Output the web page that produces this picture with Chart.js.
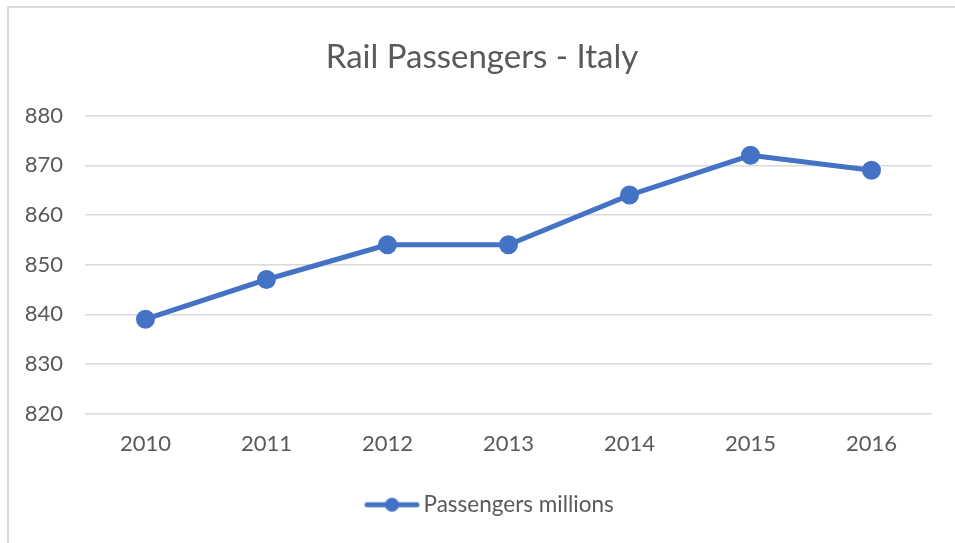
<!DOCTYPE html>
<html>
<head>
<meta charset="utf-8">
<script src="https://cdn.jsdelivr.net/npm/chart.js@4/dist/chart.umd.min.js"></script>
<style>
  html, body { margin: 0; padding: 0; background: #ffffff; }
  #frame {
    position: absolute; left: 7px; top: 6px; width: 946px; height: 535px;
    border-left: 2px solid #d9d9d9; border-top: 2px solid #d9d9d9;
  }
  #wrap { position: absolute; left: 0; top: 0; width: 946px; height: 535px; }
</style>
</head>
<body>
<div id="frame"><div id="wrap"><canvas id="chart"></canvas></div></div>
<script>
const years = ['2010', '2011', '2012', '2013', '2014', '2015', '2016'];
const passengers = [839, 847, 854, 854, 864, 872, 869];
const seriesName = 'Passengers millions';
const chartTitle = 'Rail Passengers - Italy';
const yMin = 820, yMax = 880, yStep = 10;

const blue = '#4472C4';
const textGrey = '#595959';
const gridGrey = '#d9d9d9';
const fontFamily = 'Lato, "Open Sans", sans-serif';

// legend swatch: line with a round marker in the middle (left part left blank)
const swatch = document.createElement('canvas');
swatch.width = 78; swatch.height = 16;
(function () {
  const c = swatch.getContext('2d');
  c.strokeStyle = blue; c.lineWidth = 5; c.lineCap = 'round';
  c.beginPath(); c.moveTo(24.75, 8); c.lineTo(74.75, 8); c.stroke();
  c.fillStyle = blue;
  c.beginPath(); c.arc(49.75, 8, 7, 0, Math.PI * 2); c.fill();
})();

new Chart(document.getElementById('chart'), {
  type: 'line',
  data: {
    labels: years,
    datasets: [{
      label: seriesName,
      data: passengers,
      yAxisID: 'y',
      borderColor: blue,
      backgroundColor: blue,
      borderWidth: 5,
      pointRadius: 7,
      pointHoverRadius: 7,
      pointBackgroundColor: blue,
      pointBorderColor: blue,
      borderCapStyle: 'round',
      borderJoinStyle: 'round',
      tension: 0
    }]
  },
  options: {
    responsive: true,
    maintainAspectRatio: false,
    animation: false,
    layout: { padding: { left: 0, right: 0, top: 0, bottom: 17 } },
    plugins: {
      title: {
        display: true,
        text: chartTitle,
        color: textGrey,
        font: { family: fontFamily, size: 33, weight: 'normal' },
        padding: { top: 30, bottom: 38 }
      },
      legend: {
        position: 'bottom',
        labels: {
          color: textGrey,
          font: { family: fontFamily, size: 22.5 },
          usePointStyle: true,
          pointStyleWidth: 62,
          padding: 19.5,
          generateLabels: (chart) => [{
            text: seriesName,
            pointStyle: swatch,
            fillStyle: blue,
            strokeStyle: blue,
            lineWidth: 0,
            hidden: false,
            datasetIndex: 0,
            fontColor: textGrey
          }]
        }
      },
      tooltip: { enabled: false }
    },
    scales: {
      x: {
        offset: true,
        grid: { display: false, drawTicks: false },
        border: { display: false },
        ticks: { color: textGrey, font: { family: fontFamily, size: 22 }, padding: 17 }
      },
      y: {
        min: yMin, max: yMax,
        afterFit: (s) => { s.width = 76; },
        grid: { color: gridGrey, lineWidth: 1.5, drawTicks: false },
        border: { display: false },
        ticks: { stepSize: yStep, color: textGrey, font: { family: fontFamily, size: 22 }, padding: 22 }
      },
      // empty right margin beside the plot
      yRight: {
        position: 'right',
        min: yMin, max: yMax,
        afterFit: (s) => { s.width = 23; },
        grid: { display: false, drawTicks: false },
        border: { display: false },
        ticks: { display: false }
      }
    }
  }
});
</script>
</body>
</html>
